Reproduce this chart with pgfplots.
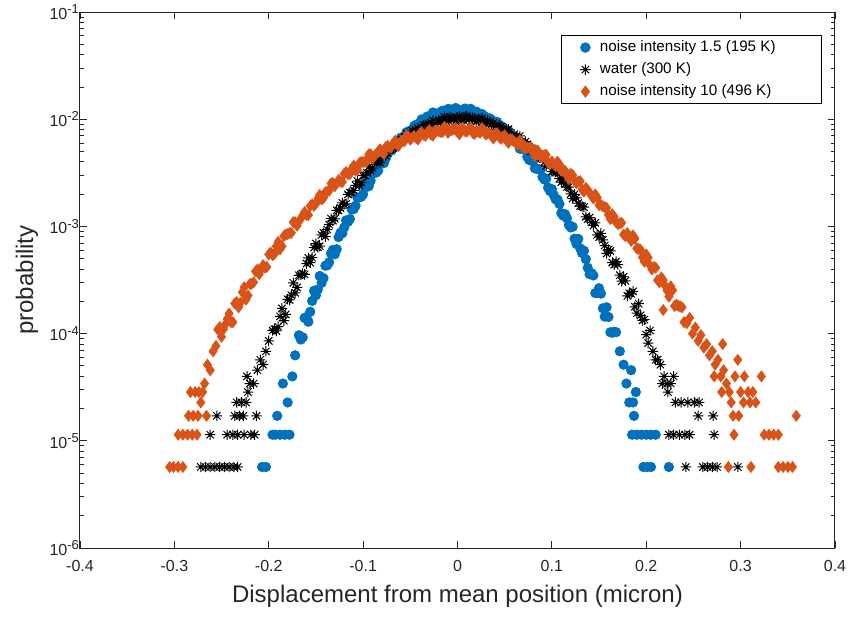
\documentclass[border=0pt]{standalone}
\usepackage{pgfplots}
\pgfplotsset{compat=1.18}
\usepackage{fontspec}
\setmainfont{Liberation Sans}
\definecolor{mblue}{rgb}{0,0.447,0.741}
\definecolor{morange}{rgb}{0.850,0.325,0.098}
\definecolor{axgray}{rgb}{0.15,0.15,0.15}
\pgfdeclareplotmark{mstar}{%
  \pgfpathmoveto{\pgfqpoint{-\pgfplotmarksize}{0pt}}\pgfpathlineto{\pgfqpoint{\pgfplotmarksize}{0pt}}%
  \pgfpathmoveto{\pgfqpoint{0pt}{-\pgfplotmarksize}}\pgfpathlineto{\pgfqpoint{0pt}{\pgfplotmarksize}}%
  \pgfpathmoveto{\pgfqpoint{-.707\pgfplotmarksize}{-.707\pgfplotmarksize}}\pgfpathlineto{\pgfqpoint{.707\pgfplotmarksize}{.707\pgfplotmarksize}}%
  \pgfpathmoveto{\pgfqpoint{-.707\pgfplotmarksize}{.707\pgfplotmarksize}}\pgfpathlineto{\pgfqpoint{.707\pgfplotmarksize}{-.707\pgfplotmarksize}}%
  \pgfusepathqstroke}
\pgfplotsset{mylegimg/.style={legend image code/.code={\path (-8.5pt,0pt) (5pt,0pt);\draw[##1] plot coordinates {(0pt,0pt)};}}}
\newcommand{\sps}[1]{\textsuperscript{\fontsize{6.5}{7}\selectfont #1}}
\begin{document}
\begin{tikzpicture}
\useasboundingbox (-40pt,-34pt) rectangle (388.5pt,274pt);
\begin{axis}[
  scale only axis, width=377.5pt, height=268pt,
  xmin=-0.4, xmax=0.4, ymode=log, ymin=1e-6, ymax=1e-1,
  xtick={-0.4,-0.3,-0.2,-0.1,0,0.1,0.2,0.3,0.4},
  xticklabels={-0.4,-0.3,-0.2,-0.1,0,0.1,0.2,0.3,0.4},
  ytick={1e-6,1e-5,1e-4,1e-3,1e-2,1e-1},
  yticklabels={10\sps{-6},10\sps{-5},10\sps{-4},10\sps{-3},10\sps{-2},10\sps{-1}},
  tick align=inside, major tick length=3.5pt, minor tick length=2pt,
  axis line style={axgray, line width=0.5pt},
  every tick/.style={axgray, line width=0.4pt},
  ticklabel style={font=\fontsize{8}{9.6}\selectfont, text=axgray},
  yticklabel style={xshift=3.5pt},
  xticklabel style={yshift=-2.5pt},
  xlabel={Displacement from mean position (micron)},
  ylabel={probability},
  label style={font=\fontsize{12}{14}\selectfont, text=axgray},
  xlabel style={at={(axis description cs:0.5,-0.0896)}, anchor=center},
  ylabel style={at={(axis description cs:-0.0702,0.5)}, anchor=center},
  legend style={at={(rel axis cs:0.983,0.957)}, anchor=north east, draw=black, line width=0.5pt,
    font=\fontsize{7.6}{9}\selectfont, row sep=0pt, inner xsep=3pt, inner ysep=0.5pt, fill=white},
  legend cell align=left,
]
\addplot[only marks, mark=*, mark size=2.35pt, color=mblue, mylegimg] table {
-0.168 9.65e-5
-0.164 9.22e-5
-0.160 1.43e-4
-0.156 1.60e-4
-0.152 2.51e-4
-0.148 2.58e-4
-0.144 2.97e-4
-0.140 4.30e-4
-0.136 4.62e-4
-0.132 6.04e-4
-0.128 6.12e-4
-0.124 8.73e-4
-0.120 9.78e-4
-0.116 1.107e-3
-0.112 1.438e-3
-0.108 1.558e-3
-0.104 1.868e-3
-0.100 1.994e-3
-0.096 2.536e-3
-0.092 2.666e-3
-0.088 3.27e-3
-0.084 3.32e-3
-0.080 4.03e-3
-0.076 4.31e-3
-0.072 5.25e-3
-0.068 5.38e-3
-0.064 5.75e-3
-0.060 6.72e-3
-0.056 6.92e-3
-0.052 7.71e-3
-0.048 7.75e-3
-0.044 8.87e-3
-0.040 9.19e-3
-0.036 9.42e-3
-0.032 1.059e-2
-0.028 1.050e-2
-0.024 1.115e-2
-0.020 1.092e-2
-0.016 1.200e-2
-0.012 1.159e-2
-0.008 1.236e-2
-0.004 1.163e-2
0.000 1.227e-2
0.004 1.191e-2
0.008 1.257e-2
0.012 1.180e-2
0.016 1.126e-2
0.020 1.176e-2
0.024 1.085e-2
0.028 1.079e-2
0.032 9.70e-3
0.036 9.91e-3
0.040 9.19e-3
0.044 8.43e-3
0.048 8.45e-3
0.052 7.50e-3
0.056 7.12e-3
0.060 6.24e-3
0.064 6.13e-3
0.068 5.29e-3
0.072 5.11e-3
0.076 4.16e-3
0.080 4.03e-3
0.084 3.44e-3
0.088 3.36e-3
0.092 2.74e-3
0.096 2.30e-3
0.100 2.23e-3
0.104 1.79e-3
0.108 1.62e-3
0.112 1.26e-3
0.116 1.19e-3
0.120 9.78e-4
0.124 7.68e-4
0.128 7.64e-4
0.132 5.64e-4
0.136 4.95e-4
0.140 3.58e-4
0.144 3.49e-4
0.148 2.39e-4
0.152 2.36e-4
0.156 1.44e-4
0.160 1.43e-4
0.164 1.02e-4
0.168 1.03e-4
-0.166 8.81e-5
-0.162 1.40e-4
-0.158 1.29e-4
-0.154 2.02e-4
-0.150 2.28e-4
-0.146 3.45e-4
-0.142 3.29e-4
-0.138 4.34e-4
-0.134 5.59e-4
-0.130 5.50e-4
-0.126 7.95e-4
-0.122 8.63e-4
-0.118 1.138e-3
-0.114 1.171e-3
-0.110 1.450e-3
-0.106 1.853e-3
-0.102 1.889e-3
-0.098 2.30e-3
-0.094 2.37e-3
-0.090 3.10e-3
-0.086 3.18e-3
-0.082 3.99e-3
-0.078 3.89e-3
-0.074 4.79e-3
-0.070 5.09e-3
-0.066 6.03e-3
-0.062 5.95e-3
-0.058 6.75e-3
-0.054 7.55e-3
-0.050 7.29e-3
-0.046 8.63e-3
-0.042 8.74e-3
-0.038 9.97e-3
-0.034 9.44e-3
-0.030 1.031e-2
-0.026 1.156e-2
-0.022 1.086e-2
-0.018 1.165e-2
-0.014 1.100e-2
-0.010 1.244e-2
-0.006 1.165e-2
-0.002 1.274e-2
0.002 1.146e-2
0.006 1.233e-2
0.010 1.177e-2
0.014 1.249e-2
0.018 1.100e-2
0.022 1.117e-2
0.026 1.118e-2
0.030 9.66e-3
0.034 1.021e-2
0.038 9.24e-3
0.042 9.43e-3
0.046 7.98e-3
0.050 7.78e-3
0.054 7.80e-3
0.058 6.56e-3
0.062 6.30e-3
0.066 5.31e-3
0.070 5.38e-3
0.074 4.45e-3
0.078 4.45e-3
0.082 3.48e-3
0.086 3.42e-3
0.090 2.89e-3
0.094 2.79e-3
0.098 2.14e-3
0.102 1.96e-3
0.106 1.78e-3
0.110 1.33e-3
0.114 1.30e-3
0.118 1.03e-3
0.122 9.91e-4
0.126 6.87e-4
0.130 6.24e-4
0.134 5.93e-4
0.138 4.11e-4
0.142 3.66e-4
0.146 2.39e-4
0.150 2.65e-4
0.154 1.72e-4
0.158 1.76e-4
0.162 1.03e-4
0.166 1.04e-4
-0.172 6.27e-5
-0.175 3.99e-5
-0.178 1.14e-5
-0.180 2.28e-5
-0.183 1.14e-5
-0.185 3.42e-5
-0.188 1.14e-5
-0.191 1.71e-5
-0.193 1.14e-5
-0.196 1.14e-5
-0.203 5.7e-6
-0.207 5.7e-6
0.172 6.84e-5
0.176 5.13e-5
0.179 3.42e-5
0.182 2.28e-5
0.184 4.56e-5
0.186 2.28e-5
0.187 1.71e-5
0.189 2.85e-5
0.185 1.14e-5
0.190 1.14e-5
0.195 1.14e-5
0.200 1.14e-5
0.205 1.14e-5
0.210 1.14e-5
0.197 5.7e-6
0.201 5.7e-6
0.205 5.7e-6
0.224 5.7e-6
};
\addlegendentry{noise intensity 1.5 (195 K)\hspace*{18pt}}
\addplot[only marks, mark=mstar, mark size=2.6pt, color=black, mark options={line width=0.5pt}, mylegimg] table {
-0.196 1.07e-4
-0.192 1.06e-4
-0.188 1.45e-4
-0.184 1.32e-4
-0.180 2.09e-4
-0.176 2.28e-4
-0.172 2.40e-4
-0.168 3.50e-4
-0.164 3.63e-4
-0.160 4.50e-4
-0.156 4.59e-4
-0.152 6.34e-4
-0.148 6.40e-4
-0.144 8.35e-4
-0.140 8.04e-4
-0.136 1.038e-3
-0.132 1.133e-3
-0.128 1.413e-3
-0.124 1.484e-3
-0.120 1.600e-3
-0.116 1.990e-3
-0.112 2.07e-3
-0.108 2.42e-3
-0.104 2.42e-3
-0.100 2.97e-3
-0.096 3.16e-3
-0.092 3.33e-3
-0.088 4.02e-3
-0.084 4.06e-3
-0.080 4.56e-3
-0.076 4.56e-3
-0.072 5.36e-3
-0.068 5.43e-3
-0.064 6.11e-3
-0.060 6.07e-3
-0.056 6.77e-3
-0.052 6.95e-3
-0.048 7.79e-3
-0.044 7.77e-3
-0.040 7.89e-3
-0.036 8.79e-3
-0.032 8.67e-3
-0.028 9.23e-3
-0.024 8.90e-3
-0.020 9.78e-3
-0.016 9.76e-3
-0.012 9.65e-3
-0.008 1.047e-2
-0.004 1.007e-2
0.000 1.035e-2
0.004 9.85e-3
0.008 1.054e-2
0.012 9.93e-3
0.016 1.034e-2
0.020 9.52e-3
0.024 9.85e-3
0.028 9.39e-3
0.032 9.76e-3
0.036 9.02e-3
0.040 8.51e-3
0.044 8.79e-3
0.048 8.04e-3
0.052 7.95e-3
0.056 7.11e-3
0.060 7.24e-3
0.064 6.71e-3
0.068 6.15e-3
0.072 6.18e-3
0.076 5.51e-3
0.080 5.26e-3
0.084 4.56e-3
0.088 4.68e-3
0.092 3.98e-3
0.096 3.95e-3
0.100 3.25e-3
0.104 3.20e-3
0.108 2.79e-3
0.112 2.78e-3
0.116 2.33e-3
0.120 2.01e-3
0.124 1.99e-3
0.128 1.65e-3
0.132 1.54e-3
0.136 1.23e-3
0.140 1.21e-3
0.144 1.02e-3
0.148 8.34e-4
0.152 8.62e-4
0.156 6.63e-4
0.160 6.08e-4
0.164 4.59e-4
0.168 4.70e-4
0.172 3.51e-4
0.176 3.39e-4
0.180 2.25e-4
0.184 2.36e-4
0.188 1.78e-4
0.192 1.90e-4
0.196 1.33e-4
0.200 9.79e-5
0.204 1.07e-4
-0.194 1.10e-4
-0.190 1.16e-4
-0.186 1.72e-4
-0.182 1.51e-4
-0.178 2.06e-4
-0.174 2.98e-4
-0.170 2.70e-4
-0.166 3.53e-4
-0.162 3.57e-4
-0.158 5.08e-4
-0.154 5.11e-4
-0.150 6.91e-4
-0.146 6.54e-4
-0.142 8.72e-4
-0.138 9.35e-4
-0.134 1.184e-3
-0.130 1.177e-3
-0.126 1.408e-3
-0.122 1.659e-3
-0.118 1.623e-3
-0.114 2.07e-3
-0.110 2.17e-3
-0.106 2.65e-3
-0.102 2.56e-3
-0.098 2.99e-3
-0.094 3.61e-3
-0.090 3.50e-3
-0.086 4.03e-3
-0.082 3.95e-3
-0.078 4.90e-3
-0.074 4.83e-3
-0.070 5.64e-3
-0.066 5.43e-3
-0.062 6.26e-3
-0.058 6.43e-3
-0.054 7.33e-3
-0.050 6.96e-3
-0.046 7.63e-3
-0.042 8.26e-3
-0.038 7.73e-3
-0.034 8.88e-3
-0.030 8.74e-3
-0.026 9.72e-3
-0.022 8.98e-3
-0.018 9.59e-3
-0.014 1.053e-2
-0.010 9.72e-3
-0.006 1.025e-2
-0.002 9.54e-3
0.002 1.065e-2
0.006 9.86e-3
0.010 1.068e-2
0.014 9.54e-3
0.018 1.020e-2
0.022 9.71e-3
0.026 1.027e-2
0.030 9.05e-3
0.034 9.20e-3
0.038 9.24e-3
0.042 8.03e-3
0.046 8.55e-3
0.050 7.81e-3
0.054 8.06e-3
0.058 6.91e-3
0.062 6.85e-3
0.066 6.98e-3
0.070 5.96e-3
0.074 5.83e-3
0.078 5.04e-3
0.082 5.22e-3
0.086 4.44e-3
0.090 4.57e-3
0.094 3.67e-3
0.098 3.73e-3
0.102 3.26e-3
0.106 3.26e-3
0.110 2.59e-3
0.114 2.475e-3
0.118 2.33e-3
0.122 1.82e-3
0.126 1.85e-3
0.130 1.55e-3
0.134 1.51e-3
0.138 1.17e-3
0.142 1.09e-3
0.146 1.08e-3
0.150 7.95e-4
0.154 7.49e-4
0.158 5.59e-4
0.162 5.90e-4
0.166 4.40e-4
0.170 4.41e-4
0.174 3.08e-4
0.178 3.11e-4
0.182 2.38e-4
0.186 2.48e-4
0.190 1.55e-4
0.194 1.48e-4
0.198 1.35e-4
0.202 8.16e-5
-0.200 8.55e-5
-0.203 6.84e-5
-0.206 5.13e-5
-0.209 5.7e-5
-0.212 4.56e-5
-0.213 1.71e-5
-0.215 1.14e-5
-0.216 3.42e-5
-0.219 1.14e-5
-0.220 3.42e-5
-0.222 2.85e-5
-0.223 3.99e-5
-0.224 2.28e-5
-0.226 1.14e-5
-0.227 1.71e-5
-0.229 2.28e-5
-0.231 1.71e-5
-0.233 1.14e-5
-0.234 2.28e-5
-0.236 1.71e-5
-0.233 5.7e-6
-0.238 1.14e-5
-0.237 5.7e-6
-0.242 5.7e-6
-0.244 1.14e-5
-0.247 5.7e-6
-0.252 5.7e-6
-0.255 1.71e-5
-0.257 5.7e-6
-0.262 1.14e-5
-0.262 5.7e-6
-0.267 5.7e-6
-0.272 5.7e-6
0.207 6.84e-5
0.210 5.7e-5
0.212 5.7e-5
0.215 5.13e-5
0.217 3.42e-5
0.219 3.99e-5
0.222 3.42e-5
0.223 2.85e-5
0.226 3.42e-5
0.229 3.99e-5
0.231 2.28e-5
0.237 2.28e-5
0.244 2.28e-5
0.251 2.28e-5
0.256 2.28e-5
0.255 1.71e-5
0.271 1.71e-5
0.224 1.14e-5
0.229 1.14e-5
0.235 1.14e-5
0.241 1.14e-5
0.246 1.14e-5
0.272 1.14e-5
0.242 5.7e-6
0.260 5.7e-6
0.265 5.7e-6
0.270 5.7e-6
0.275 5.7e-6
0.297 5.7e-6
};
\addlegendentry{water (300 K)}
\addplot[only marks, mark=diamond*, mark size=2.7pt, color=morange, mylegimg] table {
-0.256 7.66e-5
-0.252 1.15e-4
-0.248 1.10e-4
-0.244 1.37e-4
-0.240 1.28e-4
-0.236 1.91e-4
-0.232 1.76e-4
-0.228 2.43e-4
-0.224 2.08e-4
-0.220 2.90e-4
-0.216 3.01e-4
-0.212 3.97e-4
-0.208 3.96e-4
-0.204 4.12e-4
-0.200 5.47e-4
-0.196 5.40e-4
-0.192 6.51e-4
-0.188 6.12e-4
-0.184 8.11e-4
-0.180 8.48e-4
-0.176 8.70e-4
-0.172 1.093e-3
-0.168 1.114e-3
-0.164 1.265e-3
-0.160 1.280e-3
-0.156 1.551e-3
-0.152 1.555e-3
-0.148 1.822e-3
-0.144 1.782e-3
-0.140 2.08e-3
-0.136 2.15e-3
-0.132 2.54e-3
-0.128 2.54e-3
-0.124 2.62e-3
-0.120 3.10e-3
-0.116 3.07e-3
-0.112 3.43e-3
-0.108 3.31e-3
-0.104 3.89e-3
-0.100 3.98e-3
-0.096 4.03e-3
-0.092 4.70e-3
-0.088 4.58e-3
-0.084 4.98e-3
-0.080 4.92e-3
-0.076 5.50e-3
-0.072 5.42e-3
-0.068 5.93e-3
-0.064 5.73e-3
-0.060 6.25e-3
-0.056 6.28e-3
-0.052 6.89e-3
-0.048 6.74e-3
-0.044 6.73e-3
-0.040 7.37e-3
-0.036 7.16e-3
-0.032 7.53e-3
-0.028 7.17e-3
-0.024 7.81e-3
-0.020 7.73e-3
-0.016 7.58e-3
-0.012 8.18e-3
-0.008 7.84e-3
-0.004 8.04e-3
0.000 7.65e-3
0.004 8.18e-3
0.008 7.73e-3
0.012 8.08e-3
0.016 7.48e-3
0.020 7.80e-3
0.024 7.49e-3
0.028 7.87e-3
0.032 7.36e-3
0.036 7.03e-3
0.040 7.37e-3
0.044 6.85e-3
0.048 6.89e-3
0.052 6.29e-3
0.056 6.55e-3
0.060 6.19e-3
0.064 5.81e-3
0.068 6.01e-3
0.072 5.50e-3
0.076 5.40e-3
0.080 4.92e-3
0.084 5.11e-3
0.088 4.49e-3
0.092 4.61e-3
0.096 3.94e-3
0.100 4.04e-3
0.104 3.65e-3
0.108 3.79e-3
0.112 3.32e-3
0.116 2.99e-3
0.120 3.10e-3
0.124 2.69e-3
0.128 2.63e-3
0.132 2.22e-3
0.136 2.29e-3
0.140 2.05e-3
0.144 1.82e-3
0.148 1.86e-3
0.152 1.59e-3
0.156 1.51e-3
0.160 1.28e-3
0.164 1.30e-3
0.168 1.09e-3
0.172 1.07e-3
0.176 8.39e-4
0.180 8.67e-4
0.184 7.32e-4
0.188 7.70e-4
0.192 6.15e-4
0.196 5.14e-4
0.200 5.47e-4
0.204 4.33e-4
0.208 4.18e-4
0.212 3.15e-4
0.216 3.34e-4
0.220 2.80e-4
0.224 2.21e-4
0.228 2.54e-4
0.232 1.86e-4
0.236 1.79e-4
0.240 1.28e-4
-0.254 1.09e-4
-0.250 9.33e-5
-0.246 1.22e-4
-0.242 1.54e-4
-0.238 1.28e-4
-0.234 1.97e-4
-0.230 1.94e-4
-0.226 2.71e-4
-0.222 2.27e-4
-0.218 2.92e-4
-0.214 3.80e-4
-0.210 3.58e-4
-0.206 4.35e-4
-0.202 4.19e-4
-0.198 5.71e-4
-0.194 5.53e-4
-0.190 7.17e-4
-0.186 6.53e-4
-0.182 8.40e-4
-0.178 8.69e-4
-0.174 1.097e-3
-0.170 1.015e-3
-0.166 1.185e-3
-0.162 1.362e-3
-0.158 1.276e-3
-0.154 1.607e-3
-0.150 1.63e-3
-0.146 1.97e-3
-0.142 1.84e-3
-0.138 2.11e-3
-0.134 2.52e-3
-0.130 2.37e-3
-0.126 2.71e-3
-0.122 2.59e-3
-0.118 3.22e-3
-0.114 3.08e-3
-0.110 3.69e-3
-0.106 3.36e-3
-0.102 3.99e-3
-0.098 4.01e-3
-0.094 4.70e-3
-0.090 4.27e-3
-0.086 4.77e-3
-0.082 5.24e-3
-0.078 4.75e-3
-0.074 5.64e-3
-0.070 5.51e-3
-0.066 6.30e-3
-0.062 5.70e-3
-0.058 6.24e-3
-0.054 7.08e-3
-0.050 6.44e-3
-0.046 6.98e-3
-0.042 6.46e-3
-0.038 7.57e-3
-0.034 7.00e-3
-0.030 7.93e-3
-0.026 7.03e-3
-0.022 7.89e-3
-0.018 7.63e-3
-0.014 8.46e-3
-0.010 7.46e-3
-0.006 7.92e-3
-0.002 8.29e-3
0.002 7.22e-3
0.006 8.21e-3
0.010 7.67e-3
0.014 8.39e-3
0.018 7.28e-3
0.022 7.61e-3
0.026 8.26e-3
0.030 7.19e-3
0.034 7.46e-3
0.038 6.60e-3
0.042 7.41e-3
0.046 6.55e-3
0.050 7.10e-3
0.054 6.03e-3
0.058 6.46e-3
0.062 5.98e-3
0.066 6.35e-3
0.070 5.35e-3
0.074 5.44e-3
0.078 5.45e-3
0.082 4.50e-3
0.086 4.96e-3
0.090 4.40e-3
0.094 4.66e-3
0.098 3.80e-3
0.102 3.83e-3
0.106 4.02e-3
0.110 3.31e-3
0.114 3.30e-3
0.118 2.77e-3
0.122 3.02e-3
0.126 2.52e-3
0.130 2.64e-3
0.134 2.11e-3
0.138 2.19e-3
0.142 1.94e-3
0.146 1.99e-3
0.150 1.58e-3
0.154 1.545e-3
0.158 1.49e-3
0.162 1.17e-3
0.166 1.23e-3
0.170 1.05e-3
0.174 1.08e-3
0.178 8.11e-4
0.182 7.97e-4
0.186 8.24e-4
0.190 6.23e-4
0.194 6.06e-4
0.198 4.68e-4
0.202 5.12e-4
0.206 3.96e-4
0.210 4.12e-4
0.214 3.01e-4
0.218 3.16e-4
0.222 2.53e-4
0.226 2.76e-4
0.230 1.81e-4
0.234 1.82e-4
0.238 1.76e-4
-0.259 6.84e-5
-0.262 4.56e-5
-0.265 5.13e-5
-0.268 3.42e-5
-0.270 2.85e-5
-0.272 2.28e-5
-0.274 2.85e-5
-0.266 1.71e-5
-0.275 1.71e-5
-0.278 2.85e-5
-0.280 1.71e-5
-0.283 2.85e-5
-0.285 1.71e-5
-0.276 1.14e-5
-0.281 1.14e-5
-0.286 1.14e-5
-0.291 1.14e-5
-0.296 1.14e-5
-0.291 5.7e-6
-0.296 5.7e-6
-0.301 5.7e-6
-0.305 5.7e-6
0.218 1.66e-4
0.243 1.25e-4
0.246 1.40e-4
0.249 1.00e-4
0.252 1.14e-4
0.255 8.55e-5
0.258 9.69e-5
0.261 7.41e-5
0.264 7.98e-5
0.267 6.27e-5
0.270 6.84e-5
0.273 5.13e-5
0.276 5.70e-5
0.279 3.99e-5
0.281 7.98e-5
0.282 4.56e-5
0.285 3.42e-5
0.288 2.85e-5
0.290 2.28e-5
0.292 1.71e-5
0.294 3.99e-5
0.297 5.70e-5
0.298 1.71e-5
0.300 2.85e-5
0.303 2.28e-5
0.304 3.99e-5
0.308 2.85e-5
0.310 2.28e-5
0.313 2.85e-5
0.316 2.28e-5
0.322 3.99e-5
0.272 3.99e-5
0.280 2.85e-5
0.293 1.14e-5
0.325 1.14e-5
0.330 1.14e-5
0.335 1.14e-5
0.340 1.14e-5
0.287 5.7e-6
0.311 5.7e-6
0.340 5.7e-6
0.345 5.7e-6
0.350 5.7e-6
0.355 5.7e-6
0.359 1.71e-5
};
\addlegendentry{noise intensity 10 (496 K)}
\end{axis}
\end{tikzpicture}
\end{document}
